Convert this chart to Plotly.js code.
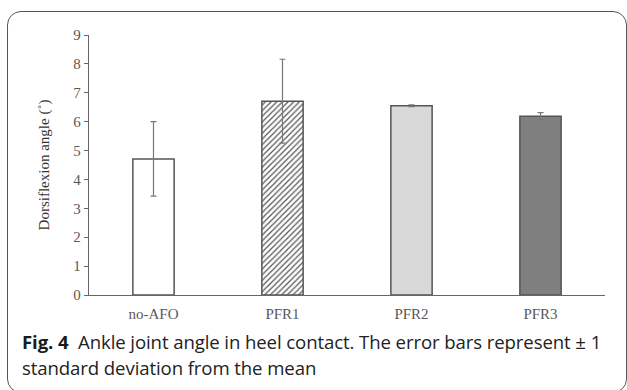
<!DOCTYPE html>
<html><head><meta charset="utf-8">
<script src="https://cdn.plot.ly/plotly-3.0.1.min.js"></script>
<style>
html,body{margin:0;padding:0;background:#fff;width:627px;height:390px;overflow:hidden;}
#wrap{position:relative;width:627px;height:390px;}
#chart{position:absolute;left:0;top:0;width:627px;height:390px;}
#box{position:absolute;left:7px;top:11px;width:620px;height:382px;border:1.5px solid #555;border-radius:14px;box-sizing:border-box;pointer-events:none;}
.cap{position:absolute;left:22px;font-family:"Open Sans","Noto Sans",sans-serif;font-size:18.6px;color:#222;white-space:nowrap;letter-spacing:-0.1px;}
.cap b{color:#1a1a1a;}
</style></head>
<body><div id="wrap"><div id="chart"></div><div id="box"></div>
<div class="cap" id="c1" style="top:329px;"><b>Fig. 4</b>&nbsp; Ankle joint angle in heel contact. The error bars represent ± 1</div>
<div class="cap" id="c2" style="top:355px;">standard deviation from the mean</div>
</div>
<script>
const categories = ["no-AFO", "PFR1", "PFR2", "PFR3"];
const meanValues = [4.71, 6.71, 6.55, 6.19];
const sdValues = [1.29, 1.45, 0.03, 0.12];
const yTickVals = [0,1,2,3,4,5,6,7,8,9];

const fills = ["#ffffff", "#ffffff", "#d9d9d9", "#7f7f7f"];
const traces = categories.map((c, i) => ({
  type: "bar",
  x: [c],
  y: [meanValues[i]],
  width: 0.32,
  marker: {
    color: fills[i],
    line: {color: "#555555", width: 1.5},
    pattern: i === 1 ? {shape: "/", fgcolor: "#555555", bgcolor: "#ffffff", size: 4, solidity: 0.3} : undefined
  },
  error_y: {type: "data", array: [sdValues[i]], visible: true, color: "#777777", thickness: 1.2, width: 3},
  showlegend: false,
  hoverinfo: "skip"
}));

const layout = {
  width: 627, height: 390,
  margin: {l: 89, r: 22, t: 35, b: 95},
  paper_bgcolor: "rgba(0,0,0,0)",
  plot_bgcolor: "rgba(0,0,0,0)",
  font: {family: "Liberation Serif, Times New Roman, serif", size: 15, color: "#555555"},
  xaxis: {
    type: "category",
    categoryorder: "array", categoryarray: categories,
    showline: true, linecolor: "#666666", linewidth: 1.2,
    ticks: "", showgrid: false, zeroline: false,
    tickfont: {family: "Liberation Serif, serif", size: 15, color: "#595959"},
    ticklabelstandoff: 5
  },
  yaxis: {
    range: [0, 9],
    tickvals: yTickVals,
    showline: true, linecolor: "#666666", linewidth: 1.2,
    ticks: "outside", ticklen: 4, tickcolor: "#666666",
    showgrid: false, zeroline: false,
    tickfont: {family: "Liberation Serif, serif", size: 15, color: "#595959"},
    title: {text: "Dorsiflexion angle (˚)", font: {family: "Liberation Serif, serif", size: 15, color: "#333333"}, standoff: 20}
  }
};
Plotly.newPlot("chart", traces, layout, {displayModeBar: false, staticPlot: true});
</script></body></html>
